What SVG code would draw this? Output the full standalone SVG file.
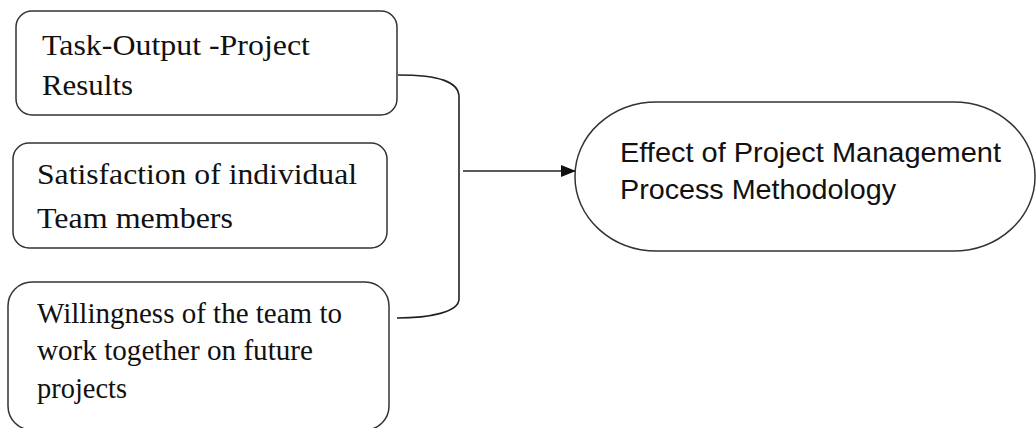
<svg xmlns="http://www.w3.org/2000/svg" width="1036" height="428" viewBox="0 0 1036 428">
<style>
.box{fill:#fff;stroke:#333;stroke-width:1.5}
.serif{font-family:"Liberation Serif","Times New Roman",serif;font-size:29px;fill:#111}
.sans{font-family:"Liberation Sans",Arial,sans-serif;font-size:28px;fill:#111}
.conn{fill:none;stroke:#222;stroke-width:1.6}
</style>
<defs>
<marker id="arr" markerWidth="16" markerHeight="12" refX="15" refY="6" orient="auto" markerUnits="userSpaceOnUse">
<path d="M0,0 L15,6 L0,12 Z" fill="#111"/>
</marker>
</defs>
<rect width="1036" height="428" fill="#fff"/>
<g id="connectors">
<path class="conn" d="M398,75 C440,75 459,82 459,97 V299 C459,312 430,318 397,318"/>
<path class="conn" d="M463,171 H576" marker-end="url(#arr)"/>
</g>
<g id="node-task-output">
<rect class="box" x="16" y="11" width="381" height="104" rx="16" ry="16"/>
<text class="serif" x="42" y="55" textLength="268" lengthAdjust="spacingAndGlyphs">Task-Output -Project</text>
<text class="serif" x="42" y="95" textLength="91" lengthAdjust="spacingAndGlyphs">Results</text>
</g>
<g id="node-satisfaction">
<rect class="box" x="13" y="143" width="374" height="105" rx="16" ry="16"/>
<text class="serif" x="37" y="184" textLength="320" lengthAdjust="spacingAndGlyphs">Satisfaction of individual</text>
<text class="serif" x="37" y="228" textLength="196" lengthAdjust="spacingAndGlyphs">Team members</text>
</g>
<g id="node-willingness">
<rect class="box" x="8" y="282" width="381" height="148" rx="24" ry="24"/>
<text class="serif" x="37" y="323" textLength="305" lengthAdjust="spacingAndGlyphs">Willingness of the team to</text>
<text class="serif" x="37" y="360" textLength="276" lengthAdjust="spacingAndGlyphs">work together on future</text>
<text class="serif" x="37" y="398" textLength="90" lengthAdjust="spacingAndGlyphs">projects</text>
</g>
<g id="node-effect">
<rect class="box" x="575" y="102" width="460" height="149" rx="82" ry="74"/>
<text class="sans" x="620" y="162" textLength="381" lengthAdjust="spacingAndGlyphs">Effect of Project Management</text>
<text class="sans" x="620" y="199" textLength="276" lengthAdjust="spacingAndGlyphs">Process Methodology</text>
</g>
</svg>
